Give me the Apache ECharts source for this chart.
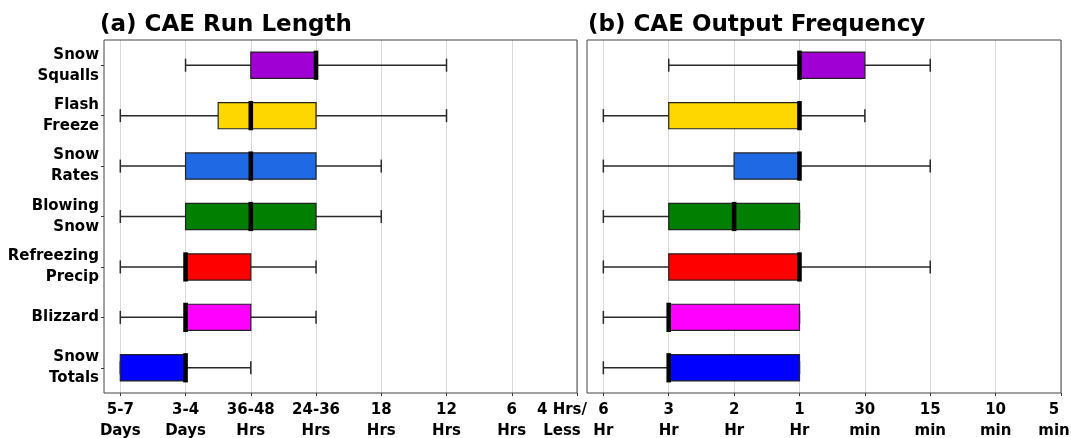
<!DOCTYPE html>
<html>
<head>
<meta charset="utf-8">
<script src="https://cdn.jsdelivr.net/npm/echarts@6/dist/echarts.min.js"></script>
<style>
  html, body { margin: 0; background: #fff; }
  #main { width: 1071px; height: 438px; }
</style>
</head>
<body>
<div id="main"></div>
<script>
var hazards = ['Snow\nSqualls', 'Flash\nFreeze', 'Snow\nRates', 'Blowing\nSnow',
               'Refreezing\nPrecip', 'Blizzard', 'Snow\nTotals'];

var runTicks = ['5-7\nDays', '3-4\nDays', '36-48\nHrs', '24-36\nHrs',
                '18\nHrs', '12\nHrs', '6\nHrs', '4 Hrs/\nLess'];
var freqTicks = ['6\nHr', '3\nHr', '2\nHr', '1\nHr',
                 '30\nmin', '15\nmin', '10\nmin', '5\nmin'];

// positions on the tick scale: [low whisker, box start, median, box end, high whisker]
var runLength = [
  [1, 2, 3, 3, 5],
  [0, 1.5, 2, 3, 5],
  [0, 1, 2, 3, 4],
  [0, 1, 2, 3, 4],
  [0, 1, 1, 2, 3],
  [0, 1, 1, 2, 3],
  [0, 0, 1, 1, 2]
];
var outputFreq = [
  [1, 3, 3, 4, 5],
  [0, 1, 3, 3, 4],
  [0, 2, 3, 3, 5],
  [0, 1, 2, 3, 3],
  [0, 1, 3, 3, 5],
  [0, 1, 1, 3, 3],
  [0, 1, 1, 3, 3]
];

var boxColors = ['#a100d4', '#ffd700', '#1f6ae4', '#007f00', '#ff0000', '#ff00ff', '#0000ff'];
var tickPos = [0, 1, 2, 3, 4, 5, 6, 7];
var font = 'DejaVu Sans';

var myChart = echarts.init(document.getElementById('main'));

function rows(list) {
  return list.map(function (r, i) { return [i].concat(r); });
}

function drawBox(params, api) {
  var row = api.value(0);
  var lo = api.coord([api.value(1), row]);
  var q1 = api.coord([api.value(2), row]);
  var med = api.coord([api.value(3), row]);
  var q3 = api.coord([api.value(4), row]);
  var hi = api.coord([api.value(5), row]);
  var h = api.size([0, 1])[1] * 0.52;
  var y = lo[1];
  var whisker = { stroke: '#2a2a2a', lineWidth: 1.5 };
  return {
    type: 'group',
    children: [
      { type: 'line', shape: { x1: lo[0], y1: y, x2: hi[0], y2: y }, style: whisker },
      { type: 'line', shape: { x1: lo[0], y1: y - 6.5, x2: lo[0], y2: y + 6.5 }, style: whisker },
      { type: 'line', shape: { x1: hi[0], y1: y - 6.5, x2: hi[0], y2: y + 6.5 }, style: whisker },
      { type: 'rect', shape: { x: q1[0], y: y - h / 2, width: q3[0] - q1[0], height: h },
        style: { fill: boxColors[row], stroke: '#222', lineWidth: 1.2 } },
      { type: 'rect', shape: { x: med[0] - 2.3, y: y - h / 2 - 1.5, width: 4.6, height: h + 3 },
        style: { fill: '#000' } }
    ]
  };
}

function xAxisFor(idx, labels, lastPad) {
  return {
    type: 'value', gridIndex: idx, min: -0.25, max: 7,
    axisLine: { show: false, onZero: false },
    axisTick: { show: true, length: 3, customValues: tickPos, lineStyle: { color: '#333' } },
    splitLine: { show: true, lineStyle: { color: '#d9d9d9', width: 1 } },
    axisLabel: {
      customValues: tickPos, margin: 7,
      color: '#000', fontFamily: font, fontWeight: 'bold', fontSize: 15, lineHeight: 21,
      formatter: function (v) {
        var t = labels[v];
        if (v === 7) {
          return t.split('\n').map(function (s) { return '{last|' + s + '}'; }).join('\n');
        }
        return t;
      },
      rich: {
        last: { fontFamily: font, fontWeight: 'bold', fontSize: 15, lineHeight: 21,
                color: '#000', padding: [0, lastPad, 0, 0] }
      }
    }
  };
}

var option = {
  backgroundColor: '#fff',
  animation: false,
  title: [
    { text: '(a) CAE Run Length', left: 100, top: 14, padding: 0,
      textStyle: { fontFamily: font, fontWeight: 'bold', fontSize: 23, color: '#000' } },
    { text: '(b) CAE Output Frequency', left: 588, top: 14, padding: 0,
      textStyle: { fontFamily: font, fontWeight: 'bold', fontSize: 23, color: '#000' } }
  ],
  grid: [
    { left: 104, top: 40, width: 473, height: 353, show: true, z: 3, outerBoundsMode: 'none',
      borderColor: '#444', borderWidth: 1, backgroundColor: 'transparent' },
    { left: 587, top: 40, width: 474, height: 353, show: true, z: 3, outerBoundsMode: 'none',
      borderColor: '#444', borderWidth: 1, backgroundColor: 'transparent' }
  ],
  xAxis: [xAxisFor(0, runTicks, 30), xAxisFor(1, freqTicks, 14)],
  yAxis: [
    {
      type: 'category', gridIndex: 0, data: hazards, inverse: true,
      axisLine: { show: false, onZero: false },
      axisTick: { show: true, alignWithLabel: true, length: 3, lineStyle: { color: '#333' } },
      axisLabel: { margin: 5, align: 'right', color: '#000', fontFamily: font, fontWeight: 'bold',
                   fontSize: 15, lineHeight: 21, interval: 0 },
      splitLine: { show: false }
    },
    {
      type: 'category', gridIndex: 1, data: hazards, inverse: true,
      axisLine: { show: false, onZero: false }, axisTick: { show: false },
      axisLabel: { show: false }, splitLine: { show: false }
    }
  ],
  series: [
    { type: 'custom', xAxisIndex: 0, yAxisIndex: 0, renderItem: drawBox,
      encode: { x: [1, 2, 3, 4, 5], y: 0 }, data: rows(runLength) },
    { type: 'custom', xAxisIndex: 1, yAxisIndex: 1, renderItem: drawBox,
      encode: { x: [1, 2, 3, 4, 5], y: 0 }, data: rows(outputFreq) }
  ]
};

myChart.setOption(option);
</script>
</body>
</html>
